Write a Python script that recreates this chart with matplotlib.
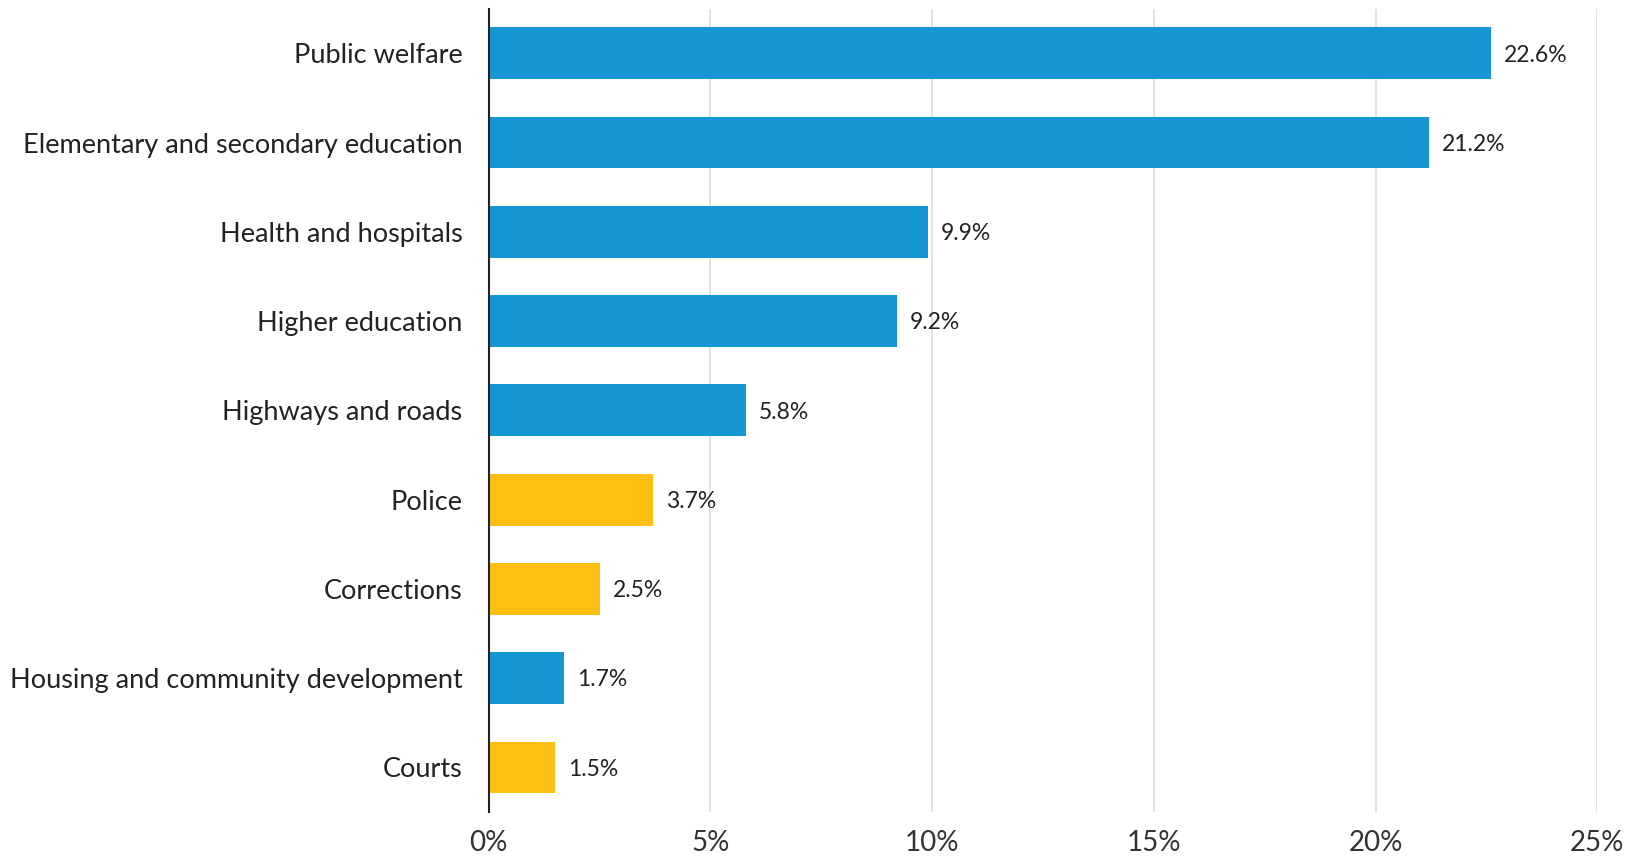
import matplotlib.pyplot as plt
import numpy as np

plt.rcParams['font.family'] = ['Lato', 'DejaVu Sans']

categories = ['Public welfare', 'Elementary and secondary education', 'Health and hospitals',
              'Higher education', 'Highways and roads', 'Police', 'Corrections',
              'Housing and community development', 'Courts']
values = [22.6, 21.2, 9.9, 9.2, 5.8, 3.7, 2.5, 1.7, 1.5]
is_justice = [False, False, False, False, False, True, True, False, True]

blue = '#1696d2'
yellow = '#fdbf11'
colors = [yellow if j else blue for j in is_justice]

fig = plt.figure(figsize=(16.4, 8.63), dpi=100)
ax = fig.add_axes([0.298, 0.059, 0.676, 0.931])

y = np.arange(len(categories))
ax.barh(y, values, height=0.58, color=colors, zorder=3)

for yi, v in zip(y, values):
    ax.text(v + 0.3, yi + 0.02, f'{v}%', va='center', ha='left', fontsize=16.5, color='#222222')

ax.set_xlim(0, 25)
ax.set_ylim(len(categories) - 0.5, -0.5)
ax.set_yticks(y)
ax.set_yticklabels(categories, fontsize=19.5, color='#222222')
ax.set_xticks([0, 5, 10, 15, 20, 25])
ax.set_xticklabels([f'{t}%' for t in [0, 5, 10, 15, 20, 25]], fontsize=20, color='#333333')
ax.tick_params(axis='y', length=0, pad=19)
ax.tick_params(axis='x', length=0, pad=13)

ax.grid(axis='x', color='#dedede', linewidth=1.2, zorder=0)
for s in ['top', 'right', 'bottom']:
    ax.spines[s].set_visible(False)
ax.spines['left'].set_color('#222222')
ax.spines['left'].set_linewidth(1.5)
ax.spines['left'].set_zorder(4)

fig.savefig('out.png', dpi=100)
